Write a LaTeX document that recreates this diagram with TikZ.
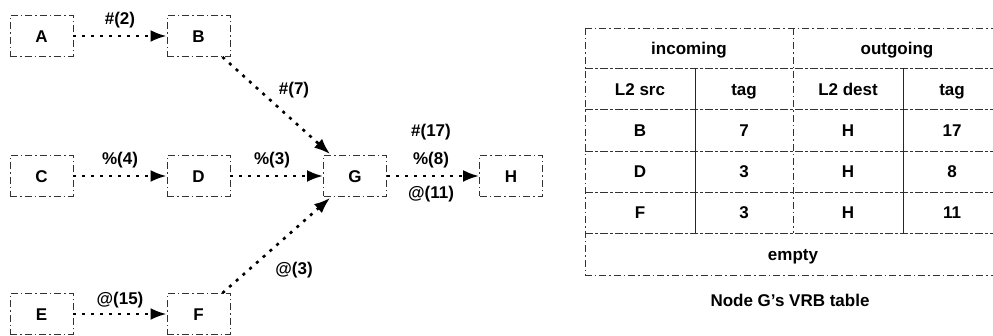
\documentclass[tikz,border=0pt]{standalone}
\usepackage{fontspec}
\setmainfont{Liberation Sans}
\usetikzlibrary{arrows.meta}
\begin{document}
\begin{tikzpicture}[x=1pt,y=-1pt,
  every node/.style={font=\fontsize{17}{20}\selectfont\bfseries, text=black,
    text height=12.2pt, text depth=0pt},
  nbox/.style={draw=black!80, line width=0.9pt, dash pattern=on 7pt off 3pt on 1.5pt off 3pt,
    minimum width=63pt, minimum height=41pt, inner sep=0pt},
  flow/.style={draw=black, line width=2.6pt, dash pattern=on 3pt off 6pt,
    -{Latex[length=16pt,width=12pt]}},
  lbl/.style={inner sep=1pt},
  border/.style={draw=black!80, line width=0.9pt, dash pattern=on 7pt off 3pt on 1.5pt off 3pt},
  hline/.style={draw=black!80, line width=0.9pt, dash pattern=on 8pt off 2pt on 3pt off 2pt},
  vsolid/.style={draw=black!85, line width=0.9pt},
  vdash/.style={draw=black!80, line width=0.9pt, dash pattern=on 7pt off 3pt on 1.5pt off 3pt},
  cell/.style={inner sep=0pt}]
\useasboundingbox (0,0) rectangle (993,336);

% graph nodes
\node[nbox] (A) at (41.5,36) {A};
\node[nbox] (B) at (198.5,36) {B};
\node[nbox] (C) at (41.5,176) {C};
\node[nbox] (D) at (198.5,176) {D};
\node[nbox] (E) at (41.5,314) {E};
\node[nbox] (F) at (198.5,314) {F};
\node[nbox] (G) at (355,176) {G};
\node[nbox] (H) at (511,176) {H};

% connectors
\draw[flow] (A) -- (B);
\draw[flow] (C) -- (D);
\draw[flow] (E) -- (F);
\draw[flow] (D) -- (G);
\draw[flow] (G) -- (H);
\draw[flow] ([xshift=-8pt]B.south east) -- ([xshift=7pt,yshift=1pt]G.north west);
\draw[flow] ([xshift=-8pt]F.north east) -- ([xshift=7pt,yshift=-1pt]G.south west);

% labels
\node[lbl] (lAB) at (120,18) {\#(2)};
\node[lbl] (lCD) at (120,158) {\%(4)};
\node[lbl] (lEF) at (120,298) {@(15)};
\node[lbl] (lDG) at (272,158) {\%(3)};
\node[lbl] (lBG) at (294,88) {\#(7)};
\node[lbl] (lFG) at (294,268) {@(3)};
\node[lbl] (lGH1) at (431,130) {\#(17)};
\node[lbl] (lGH2) at (431,158) {\%(8)};
\node[lbl] (lGH3) at (431,192) {@(11)};

% table lines
\draw[hline] (585,68) -- (1001,68);
\draw[hline] (585,109) -- (1001,109);
\draw[hline] (585,151) -- (1001,151);
\draw[hline] (585,192) -- (1001,192);
\draw[hline] (585,233) -- (1001,233);
\draw[vsolid] (695,68) -- (695,233);
\draw[vsolid] (903,68) -- (903,233);
\draw[vdash] (793,28) -- (793,233);
\draw[border] (585,28) rectangle (1001,275);

% table texts
\node[cell] (tin) at (689,48) {incoming};
\node[cell] (tout) at (897,48) {outgoing};
\node[cell] (h1) at (640,89) {L2 src};
\node[cell] (h2) at (744,89) {tag};
\node[cell] (h3) at (848,89) {L2 dest};
\node[cell] (h4) at (952,89) {tag};
\node[cell] (r11) at (640,130) {B};
\node[cell] (r12) at (744,130) {7};
\node[cell] (r13) at (848,130) {H};
\node[cell] (r14) at (952,130) {17};
\node[cell] (r21) at (640,171) {D};
\node[cell] (r22) at (744,171) {3};
\node[cell] (r23) at (848,171) {H};
\node[cell] (r24) at (952,171) {8};
\node[cell] (r31) at (640,212) {F};
\node[cell] (r32) at (744,212) {3};
\node[cell] (r33) at (848,212) {H};
\node[cell] (r34) at (952,212) {11};
\node[cell] (emp) at (793,254) {empty};
\node[cell] (cap) at (790,300) {Node G's VRB table};
\end{tikzpicture}
\end{document}
